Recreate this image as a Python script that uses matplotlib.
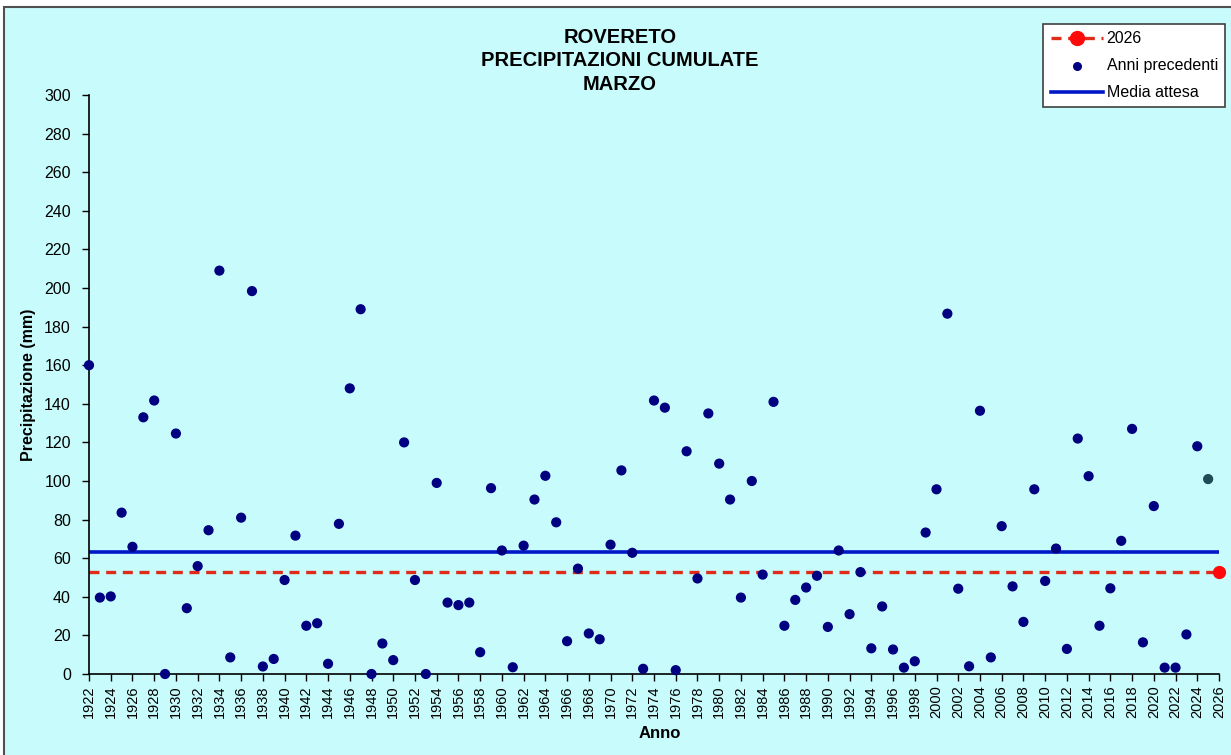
import numpy as np
import matplotlib.pyplot as plt
from matplotlib.patches import Rectangle

plt.rcParams['font.family'] = ['Liberation Sans', 'DejaVu Sans']

# dati: precipitazioni cumulate di marzo (mm), anni precedenti
anni = list(range(1922, 2026))
precip = [160, 39.6, 40.2, 83.6, 65.9, 133, 141.7, 0, 124.6, 34.1,
          55.9, 74.5, 209, 8.6, 81, 198.4, 3.9, 7.8, 48.7, 71.7,
          25, 26.3, 5.3, 77.8, 148, 189, 0, 15.8, 7.2, 120,
          48.7, 0, 99, 37, 35.7, 37, 11.3, 96.3, 64, 3.5,
          66.5, 90.4, 102.7, 78.6, 17, 54.6, 21, 18, 67, 105.5,
          62.8, 2.7, 141.7, 138, 2, 115.4, 49.5, 135, 109, 90.4,
          39.6, 100, 51.5, 141, 25, 38.4, 44.8, 50.9, 24.4, 64,
          31, 52.8, 13.3, 35, 12.7, 3.3, 6.6, 73.3, 95.7, 186.7,
          44.2, 4, 136.4, 8.6, 76.6, 45.4, 27, 95.7, 48.2, 65,
          13, 122, 102.5, 25, 44.4, 69, 127, 16.4, 87, 3.3,
          3.3, 20.5, 118, 101]
anno_corrente = 2026
valore_corrente = 52.8
media_attesa = 63.3

fig = plt.figure(figsize=(12.31, 7.55), dpi=100, facecolor='white')
bg = '#C8FCFC'
fig.patches.append(Rectangle((4 / 1231, -0.01), 1.02, 1 - 7 / 755 + 0.01,
                             transform=fig.transFigure, facecolor=bg,
                             edgecolor='#505050', linewidth=1.5, zorder=-10))

ax = fig.add_axes([89 / 1231, 1 - 674 / 755, (1219 - 89) / 1231, (674 - 95) / 755])
ax.set_facecolor(bg)

colori = ['#000080'] * len(anni)
colori[-1] = '#1E4B55'
ax.scatter(anni, precip, s=40, c=colori, zorder=3, clip_on=False,
           label='Anni precedenti')
ax.plot([anni[0], anno_corrente], [valore_corrente, valore_corrente],
        color='#E02A1A', lw=2.4, ls=(0, (3, 2)), zorder=2)
ax.axhline(media_attesa, color='#0018C8', lw=2.6, zorder=2)
ax.plot([anno_corrente], [valore_corrente], 'o', color='#FF0A0A', ms=8.5,
        clip_on=False, zorder=4)

ax.set_xlim(1922, 2026)
ax.set_ylim(0, 300)
ax.set_yticks(np.arange(0, 301, 20))
ax.set_xticks(np.arange(1922, 2027, 2))
ax.set_xticklabels([str(a) for a in range(1922, 2027, 2)], rotation=90)
ax.tick_params(axis='both', length=5, width=1, color='black')
ax.tick_params(axis='y', labelsize=11.5, pad=8)
ax.tick_params(axis='x', labelsize=10.5, pad=3)
ax.spines['top'].set_visible(False)
ax.spines['right'].set_visible(False)
ax.spines['left'].set_linewidth(1.2)
ax.spines['bottom'].set_linewidth(1.2)

ax.set_ylabel('Precipitazione (mm)', fontsize=11.5, fontweight='bold', labelpad=6)
fig.text(660 / 1231, 1 - 733 / 755, 'Anno', fontsize=12, fontweight='bold',
         ha='center', va='center')
fig.text(620 / 1231, 1 - 61 / 755, 'ROVERETO\nPRECIPITAZIONI CUMULATE\nMARZO',
         fontsize=14.5, fontweight='bold', ha='center', va='center',
         linespacing=1.27)

# legenda
h1, = ax.plot([], [], color='#E02A1A', lw=2.4, ls=(0, (3, 2)),
              marker='o', ms=10, mfc='#FF0A0A', mec='#FF0A0A')
h2 = ax.scatter([], [], s=30, c='#000080')
h3, = ax.plot([], [], color='#0018C8', lw=2.6)
leg = fig.legend([h1, h2, h3], [str(anno_corrente), 'Anni precedenti', 'Media attesa'],
                 loc='upper right', bbox_to_anchor=(1225 / 1231, 1 - 24 / 755),
                 fontsize=11.5, frameon=True, fancybox=False, framealpha=1,
                 edgecolor='#404040', handlelength=3.3, handletextpad=0.2,
                 borderpad=0.45, labelspacing=0.75, borderaxespad=0)
leg.get_frame().set_linewidth(1.2)

fig.savefig('out.png', dpi=100, facecolor=fig.get_facecolor())
